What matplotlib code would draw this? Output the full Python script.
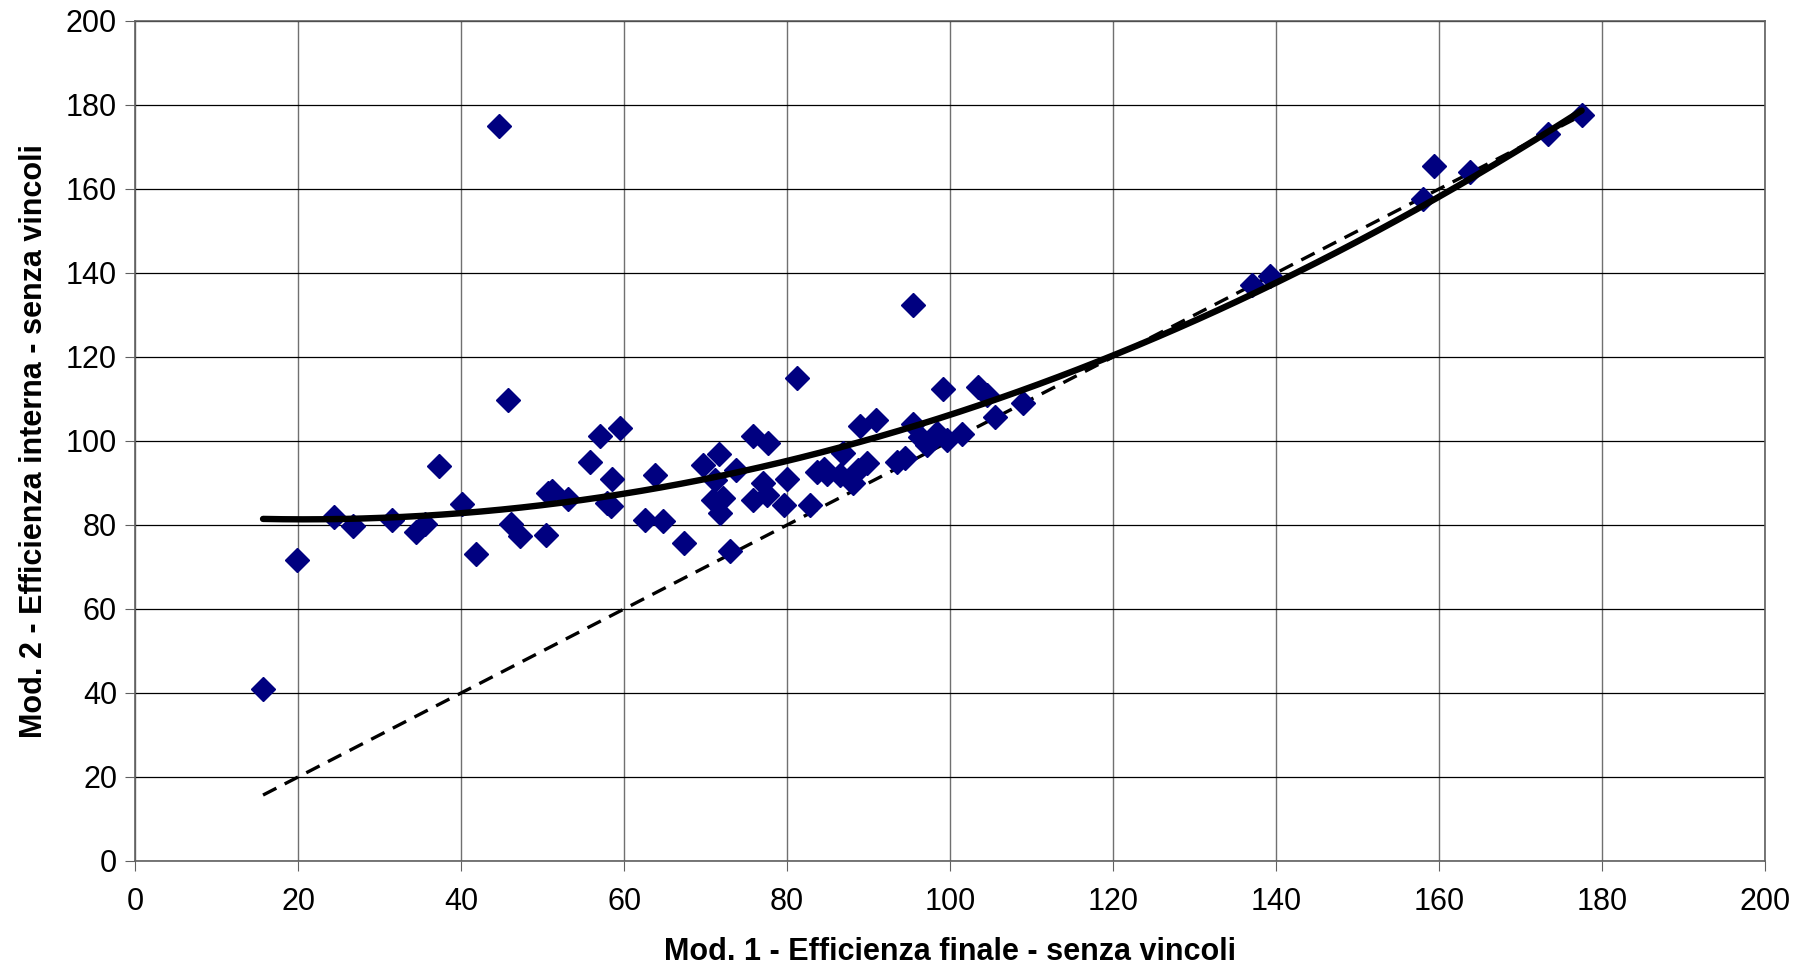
"""
Scatter of Mod. 1 vs Mod. 2 efficiency with quadratic trend and bisector
"""

import matplotlib.pyplot as plt
import numpy as np

plt.rcParams['font.family'] = ['Liberation Sans', 'DejaVu Sans']

# Efficiency values
mod1 = [15.7, 19.9, 24.4, 26.7, 31.5, 34.5, 35.6, 37.3, 40.1, 41.8,
        44.7, 45.8, 46.1, 47.2, 50.4, 50.7, 51.2, 53.1, 55.8, 57.1,
        57.9, 58.4, 58.5, 59.5, 62.6, 63.8, 64.8, 67.4, 69.7, 70.9,
        71.2, 71.7, 71.8, 72.1, 73.0, 73.7, 75.8, 75.8, 77.1, 77.5,
        77.7, 79.6, 80.0, 81.2, 82.8, 83.7, 84.5, 84.9, 86.5, 86.9,
        88.1, 88.7, 89.0, 89.8, 90.9, 93.5, 94.5, 95.5, 95.5, 96.3,
        97.2, 98.4, 99.1, 99.6, 101.5, 103.4, 104.5, 105.5, 109.0, 137.0,
        139.3, 158.0, 159.4, 163.8, 173.4, 177.5]
mod2 = [41.0, 71.6, 81.8, 79.8, 81.1, 78.3, 80.3, 94.0, 85.0, 73.2,
        175.0, 109.8, 80.3, 77.3, 77.5, 87.5, 88.2, 86.2, 95.0, 101.3,
        85.2, 84.6, 91.0, 103.0, 81.3, 91.8, 81.0, 75.6, 94.4, 86.0,
        90.7, 97.0, 82.9, 86.4, 73.7, 93.2, 101.1, 86.0, 90.0, 87.1,
        99.6, 84.8, 91.0, 115.0, 84.8, 92.6, 93.4, 92.2, 91.9, 97.2,
        90.0, 93.1, 103.6, 94.8, 105.1, 95.0, 96.0, 132.4, 104.0, 101.0,
        99.0, 101.8, 112.4, 100.2, 101.7, 112.9, 111.0, 105.7, 109.0, 137.1,
        139.3, 157.7, 165.4, 164.0, 173.0, 177.5]

x = np.array(mod1)
y = np.array(mod2)

fig = plt.figure(figsize=(18.06, 9.72), dpi=100)
ax = fig.add_axes([0.0748, 0.1142, 0.9025, 0.8642])

# Bisector y = x over the data range
ax.plot([x.min(), x.max()], [x.min(), x.max()], color='black', linewidth=2.4,
        linestyle=(0, (4.5, 2.8)), zorder=2)

# Quadratic trend line
coef = np.polyfit(x, y, 2)
xs = np.linspace(x.min(), x.max(), 200)
ax.plot(xs, np.polyval(coef, xs), color='black', linewidth=4.6, zorder=4,
        solid_capstyle='round')

ax.plot(x, y, linestyle='none', marker='D', markersize=12, color='#000080', zorder=3)

ax.set_xlim(0, 200)
ax.set_ylim(0, 200)
ax.set_xticks(np.arange(0, 201, 20))
ax.set_yticks(np.arange(0, 201, 20))
ax.tick_params(labelsize=22, length=7, color='#606060', direction='out', pad=6)
ax.tick_params(axis='x', pad=12)
ax.xaxis.grid(True, color='#707070', linewidth=1)
ax.yaxis.grid(True, color='black', linewidth=0.9)
ax.set_axisbelow(True)
for s in ax.spines.values():
    s.set_color('#606060')
    s.set_linewidth(1.2)

ax.set_xlabel('Mod. 1 - Efficienza finale - senza vincoli', fontsize=22,
              fontweight='bold', labelpad=14)
ax.set_ylabel('Mod. 2 - Efficienza interna - senza vincoli', fontsize=22,
              fontweight='bold', labelpad=12)

fig.savefig('out.png', dpi=100)
